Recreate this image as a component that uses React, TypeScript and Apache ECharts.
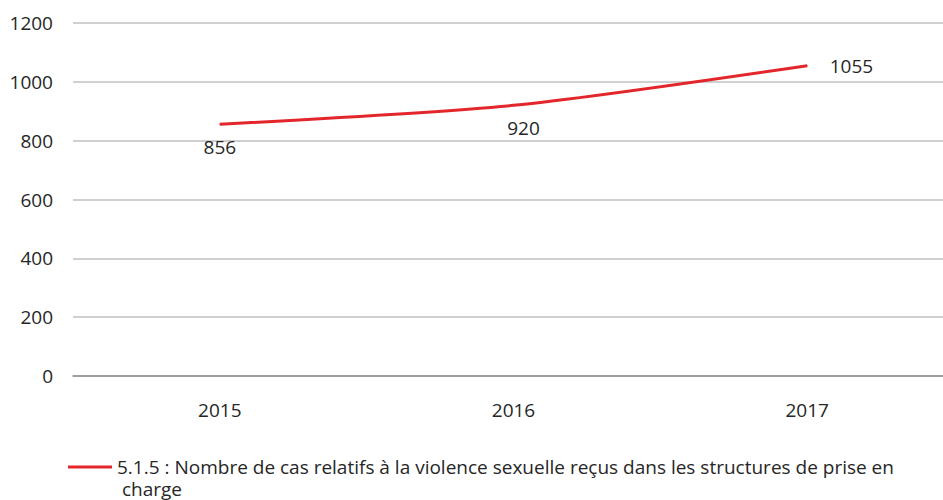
import React, { useEffect, useRef } from "react";
import * as echarts from "echarts";

const categories = ["2015", "2016", "2017"];
const values = [856, 920, 1055];
const seriesName =
  "5.1.5 : Nombre de cas relatifs à la violence sexuelle reçus dans les structures de prise en charge";
const labelPositions = ["bottom", "bottom", "right"];
const labelOffsets = [[0, 0], [10, 0], [0, 0]];

export default function App() {
  const ref = useRef<HTMLDivElement>(null);
  useEffect(() => {
    if (!ref.current) return;
    const chart = echarts.init(ref.current, undefined, { renderer: "svg" });
    const font = "'Open Sans', sans-serif";
    const fs = 19;
    chart.setOption({
      animation: false,
      grid: {
        left: 73,
        width: 881,
        top: 23,
        bottom: 124,
        containLabel: false,
        outerBoundsMode: "none",
      },
      xAxis: {
        type: "category",
        data: categories,
        boundaryGap: true,
        axisLine: { lineStyle: { color: "#8c8c8c", width: 1.5 } },
        axisTick: { show: false },
        axisLabel: { color: "#262626", fontSize: fs, fontFamily: font, margin: 24 },
      },
      yAxis: {
        type: "value",
        min: 0,
        max: 1200,
        interval: 200,
        axisLine: { show: false },
        axisTick: { show: false },
        splitLine: { lineStyle: { color: "#c0c0c0", width: 1.5 } },
        axisLabel: {
          color: "#262626",
          fontSize: fs,
          fontFamily: font,
          margin: 20,
          formatter: (v: number) => String(v),
        },
      },
      legend: {
        left: 68,
        top: 456,
        padding: 0,
        icon: "path://M0,0H44V3H0Z M0,25L44,25Z",
        itemWidth: 44,
        itemHeight: 25,
        itemGap: 4,
        itemStyle: { borderWidth: 0 },
        textStyle: {
          color: "#262626",
          fontSize: fs,
          fontFamily: font,
          width: 800,
          overflow: "break",
          lineHeight: 22,
        },
        data: [seriesName],
      },
      series: [
        {
          name: seriesName,
          type: "line",
          smooth: 0.25,
          symbol: "circle",
          symbolSize: 1,
          showSymbol: true,
          lineStyle: { color: "#e3262b", width: 3 },
          itemStyle: { color: "#e3262b" },
          label: { show: true, color: "#262626", fontSize: fs, fontFamily: font },
          data: values.map((v, i) => ({
            value: v,
            label: {
              show: true,
              position: labelPositions[i],
              distance: i === 2 ? 22 : 13,
              offset: labelOffsets[i],
            },
          })),
        },
      ],
    });
    return () => chart.dispose();
  }, []);
  return (
    <div
      ref={ref}
      style={{ position: "fixed", left: 0, top: 0, width: 943, height: 500, background: "#fff" }}
    />
  );
}
